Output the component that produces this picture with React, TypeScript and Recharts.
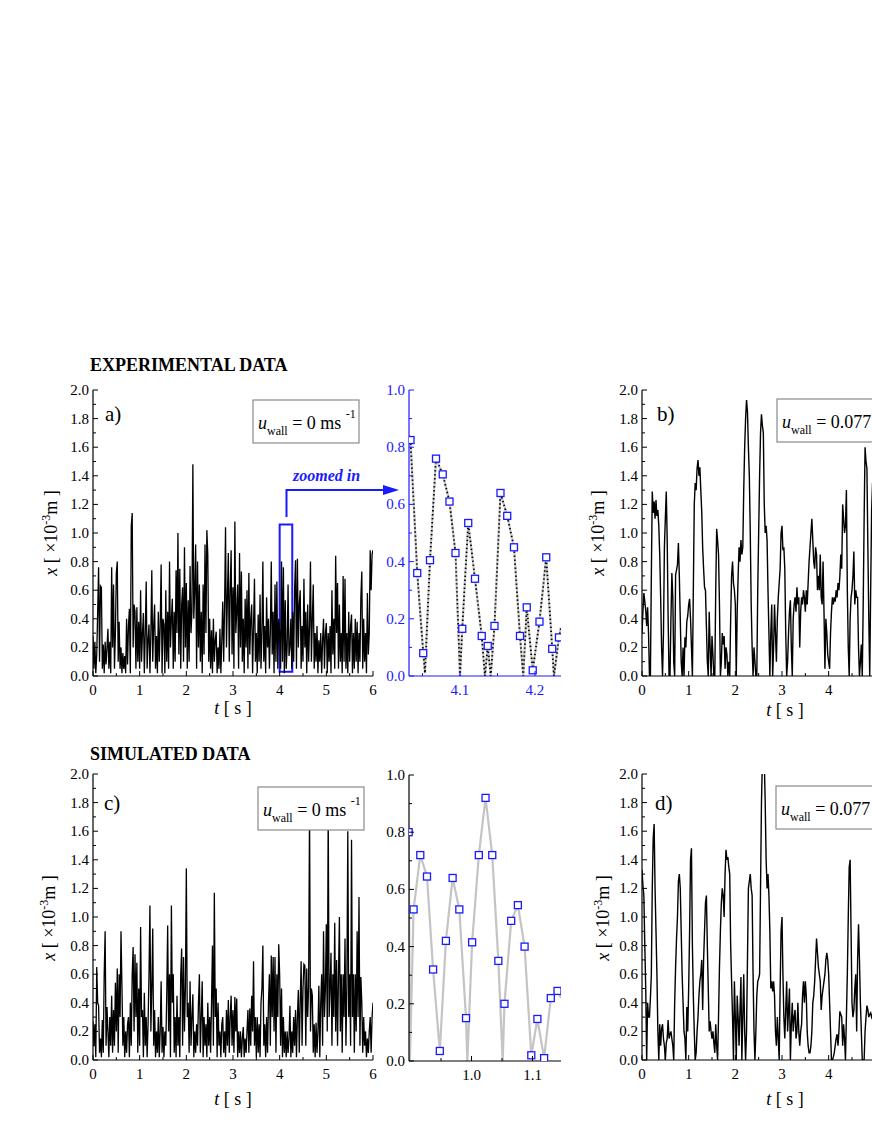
import React from "react";
import { LineChart, Line, XAxis, YAxis, ReferenceArea } from "recharts";

const FONT = '"Liberation Serif", "Times New Roman", serif';
const BLUE = "#1a1aff";
const DT = 0.02;

// a) experimental, u_wall = 0 m/s  (0 .. 6 s)
const EXP_WALL0 = [
  0.28, 0.05, 0.24, 0.02, 0.15, 0.45, 0.76, 0.1, 0.63, 0.62, 0.05, 0.22, 0.02, 0.24, 0.08, 0.2, 0.33, 0.05, 0.24, 0.02, 0.76, 0.2, 0.64, 0.05, 0.3,
  0.72, 0.8, 0.1, 0.38, 0.05, 0.2, 0.02, 0.16, 0.05, 0.14, 0.02, 0.4, 0.08, 0.35, 0.47, 0.02, 1.05, 1.14, 0.2, 0.5, 0.45, 0.05, 0.48, 0.1, 0.38,
  0.05, 0.6, 0.1, 0.3, 0.44, 0.02, 0.3, 0.66, 0.05, 0.25, 0.36, 0.02, 0.3, 0.74, 0.1, 0.35, 0.5, 0.05, 0.28, 0.02, 0.45, 0.1, 0.35, 0.78, 0.02,
  0.4, 0.36, 0.02, 0.6, 0.1, 0.45, 0.05, 0.8, 0.2, 0.4, 0.54, 0.05, 0.45, 0.1, 0.74, 0.3, 1.0, 0.15, 0.75, 0.05, 0.5, 0.62, 0.1, 0.9, 0.2,
  0.65, 0.05, 0.53, 0.1, 0.77, 0.3, 0.45, 1.48, 0.4, 0.6, 0.92, 0.05, 0.8, 0.2, 0.64, 0.1, 0.45, 0.02, 0.64, 0.15, 0.92, 0.3, 1.02, 0.85, 0.1,
  0.4, 0.05, 0.32, 0.02, 0.4, 0.1, 0.25, 0.31, 0.02, 0.2, 0.05, 0.33, 0.02, 0.25, 0.52, 0.1, 0.5, 1.04, 0.2, 0.55, 0.86, 0.1, 0.6, 0.88, 0.15,
  0.62, 0.05, 1.08, 0.3, 0.45, 0.64, 0.05, 0.86, 0.2, 0.73, 0.1, 0.4, 0.02, 0.54, 0.2, 0.6, 0.05, 0.72, 0.15, 0.4, 0.5, 0.02, 0.35, 0.68, 0.1,
  0.3, 0.02, 0.43, 0.1, 0.57, 0.05, 0.3, 0.8, 0.1, 0.35, 0.02, 0.55, 0.2, 0.4, 0.05, 0.3, 0.8, 0.15, 0.45, 0.02, 0.64, 0.1, 0.66, 0.05, 0.4,
  0.3, 0.05, 0.8, 0.1, 0.76, 0.02, 0.53, 0.05, 0.2, 0.64, 0.14, 0.2, 0.4, 0.05, 0.45, 0.1, 0.6, 0.81, 0.05, 0.82, 0.2, 0.5, 0.6, 0.05, 0.35,
  0.1, 0.68, 0.2, 0.45, 0.02, 0.5, 0.1, 0.35, 0.8, 0.1, 0.4, 0.64, 0.05, 0.3, 0.1, 0.35, 0.02, 0.25, 0.1, 0.3, 0.02, 0.25, 0.4, 0.05, 0.3,
  0.37, 0.02, 0.3, 0.1, 0.35, 0.02, 0.6, 0.15, 0.4, 0.05, 0.84, 0.3, 0.65, 0.05, 0.5, 0.1, 0.3, 0.02, 0.7, 0.1, 0.68, 0.05, 0.3, 0.02, 0.45,
  0.1, 0.35, 0.43, 0.02, 0.3, 0.05, 0.4, 0.1, 0.38, 0.02, 0.3, 0.1, 0.55, 0.73, 0.05, 0.4, 0.1, 0.3, 0.02, 0.58, 0.15, 0.3, 0.88, 0.6, 0.85,
  0.88,
];

// b) experimental, u_wall = 0.077 m/s  (0 .. 5 s visible)
const EXP_WALL077 = [
  0.3, 0.45, 0.58, 0.52, 0.46, 0.35, 0.48, 0.3, 0.0, 0.0, 0.7, 1.29, 1.14, 1.22, 1.1, 1.23, 1.12, 1.16, 1.05, 0.85, 0.55, 0.2, 0.0, 0.3, 0.9,
  1.1, 1.29, 0.95, 0.4, 0.0, 0.0, 0.4, 0.72, 0.55, 0.1, 0.0, 0.71, 0.74, 0.78, 0.93, 0.7, 0.4, 0.1, 0.0, 0.2, 0.0, 0.27, 0.2, 0.38, 0.42,
  0.5, 0.54, 0.4, 0.2, 0.0, 0.6, 1.2, 1.35, 1.3, 1.45, 1.51, 1.4, 1.46, 1.3, 1.15, 0.9, 0.75, 0.62, 0.6, 0.35, 0.1, 0.0, 0.45, 0.2, 0.0,
  0.28, 0.15, 0.0, 0.0, 0.6, 1.03, 0.95, 0.85, 0.5, 0.0, 0.1, 0.3, 0.22, 0.28, 0.05, 0.2, 0.15, 0.0, 0.1, 0.0, 0.4, 0.7, 0.8, 0.65, 0.6,
  0.5, 0.0, 0.45, 0.7, 0.9, 0.8, 0.95, 0.85, 0.9, 1.3, 1.6, 1.8, 1.93, 1.85, 1.6, 1.4, 1.0, 0.5, 0.2, 0.0, 0.2, 0.1, 0.0, 0.0, 0.6,
  1.0, 1.4, 1.7, 1.83, 1.75, 1.7, 1.2, 1.0, 1.05, 0.95, 0.6, 0.3, 0.0, 0.3, 0.5, 0.0, 0.2, 0.5, 0.3, 0.1, 0.4, 0.55, 0.65, 0.75, 1.0,
  1.05, 0.88, 0.9, 0.75, 0.3, 0.0, 0.1, 0.3, 0.45, 0.53, 0.2, 0.0, 0.4, 0.5, 0.55, 0.45, 0.62, 0.5, 0.55, 0.2, 0.45, 0.55, 0.5, 0.6, 0.55,
  0.45, 0.6, 0.5, 0.65, 0.8, 0.9, 1.0, 1.1, 0.95, 0.8, 0.75, 0.9, 0.85, 0.6, 0.7, 0.6, 0.85, 0.55, 0.5, 0.8, 0.45, 0.05, 0.4, 0.3, 0.15,
  0.1, 0.05, 0.3, 0.45, 0.55, 0.5, 0.55, 0.52, 0.6, 0.55, 0.65, 0.6, 0.7, 0.85, 0.75, 1.2, 1.1, 1.0, 1.05, 1.3, 0.6, 0.2, 0.0, 0.4, 0.55,
  0.6, 0.7, 0.87, 0.5, 0.6, 0.55, 0.55, 0.2, 0.0, 0.1, 0.22, 0.0, 0.5, 1.1, 1.6, 1.5, 1.45, 0.9, 0.4, 0.0, 0.6, 1.15, 1.35, 1.2, 1.3,
  1.25,
];

// c) simulated, u_wall = 0 m/s  (0 .. 6 s)
const SIM_WALL0 = [
  0.27, 0.1, 0.25, 0.02, 0.65, 0.4, 0.38, 0.05, 0.15, 0.02, 0.28, 0.05, 0.6, 0.9, 0.1, 0.37, 0.2, 0.02, 0.3, 0.1, 0.45, 0.05, 0.35, 0.1, 0.54,
  0.2, 0.64, 0.05, 0.6, 0.3, 0.9, 0.52, 0.1, 0.3, 0.02, 0.2, 0.05, 0.25, 0.3, 0.02, 0.4, 0.1, 0.6, 0.79, 0.2, 0.74, 0.3, 0.68, 0.05, 0.5,
  0.1, 0.93, 0.3, 0.35, 0.02, 0.47, 0.1, 0.3, 0.02, 0.25, 0.6, 1.08, 0.2, 0.5, 0.92, 0.1, 0.35, 0.02, 0.2, 0.05, 0.3, 0.02, 0.2, 0.55, 0.05,
  0.23, 0.02, 0.2, 0.1, 0.45, 0.94, 0.2, 0.6, 0.02, 1.08, 0.4, 0.6, 0.05, 0.3, 0.02, 0.45, 0.1, 0.3, 0.02, 0.6, 0.78, 0.1, 0.72, 0.2, 0.5,
  1.34, 0.3, 0.4, 0.05, 0.55, 0.1, 0.3, 0.46, 0.02, 0.2, 0.05, 0.25, 0.1, 0.4, 0.6, 0.05, 0.3, 0.55, 0.02, 0.3, 0.1, 0.25, 0.02, 0.4, 0.1,
  0.3, 0.05, 0.4, 0.8, 0.1, 1.17, 0.3, 0.5, 0.02, 0.4, 0.1, 0.2, 0.02, 0.25, 0.3, 0.05, 0.2, 0.02, 0.35, 0.1, 0.42, 0.05, 0.3, 0.45, 0.1,
  0.35, 0.05, 0.44, 0.2, 0.43, 0.02, 0.2, 0.05, 0.2, 0.02, 0.15, 0.23, 0.02, 0.15, 0.05, 0.2, 0.35, 0.05, 0.36, 0.1, 0.45, 0.2, 0.69, 0.1, 0.3,
  0.02, 0.3, 0.05, 0.25, 0.02, 0.4, 0.5, 0.8, 0.1, 0.25, 0.02, 0.3, 0.05, 0.4, 0.6, 0.1, 0.73, 0.3, 0.72, 0.2, 0.72, 0.05, 0.6, 0.3, 0.81,
  0.59, 0.1, 0.5, 0.02, 0.3, 0.05, 0.2, 0.02, 0.2, 0.05, 0.15, 0.38, 0.02, 0.2, 0.05, 0.3, 0.1, 0.35, 0.02, 0.3, 0.49, 0.05, 0.4, 0.69, 0.1,
  0.5, 0.67, 0.66, 0.1, 0.64, 0.3, 0.5, 1.75, 0.2, 0.5, 0.45, 0.05, 0.25, 0.02, 0.26, 0.05, 0.2, 0.52, 0.02, 0.4, 0.6, 0.1, 0.9, 0.3, 0.5,
  0.95, 0.2, 1.75, 0.3, 0.5, 0.75, 0.1, 0.6, 0.3, 0.96, 0.2, 0.7, 0.1, 0.58, 1.0, 0.2, 0.6, 0.05, 0.6, 0.3, 0.85, 0.1, 0.5, 1.6, 0.3,
  0.6, 0.1, 1.54, 0.3, 0.6, 0.05, 0.6, 0.2, 0.9, 0.3, 1.14, 0.1, 0.58, 0.4, 0.05, 0.3, 0.1, 0.2, 0.02, 0.15, 0.05, 0.2, 0.3, 0.05, 0.3,
  0.4,
];

// d) simulated, u_wall = 0.077 m/s  (0 .. 5 s visible)
const SIM_WALL077 = [
  1.33, 1.22, 1.15, 0.8, 0.5, 0.0, 0.4, 0.3, 0.3, 0.43, 0.6, 1.2, 1.55, 1.65, 1.2, 0.9, 0.6, 0.2, 0.0, 0.25, 0.1, 0.22, 0.25, 0.15, 0.1,
  0.0, 0.12, 0.15, 0.28, 0.15, 0.18, 0.2, 0.15, 0.1, 0.0, 0.4, 0.65, 0.85, 1.0, 1.25, 1.3, 1.2, 0.9, 0.6, 0.4, 0.2, 0.15, 0.0, 0.37, 0.2,
  0.5, 0.9, 1.4, 1.48, 0.8, 0.45, 0.2, 0.0, 0.05, 0.2, 0.3, 0.45, 0.55, 0.6, 0.7, 0.35, 0.7, 0.9, 1.1, 1.15, 0.8, 0.5, 0.2, 0.27, 0.2,
  0.15, 0.2, 0.12, 0.05, 0.25, 0.1, 0.0, 0.3, 0.65, 0.9, 1.1, 1.2, 1.15, 1.0, 1.3, 1.47, 1.4, 1.42, 1.35, 1.3, 0.8, 0.55, 0.3, 0.0, 0.55,
  0.3, 0.0, 0.45, 0.3, 0.1, 0.35, 0.58, 0.0, 0.3, 0.6, 0.2, 0.0, 0.2, 0.7, 1.2, 1.25, 1.3, 1.2, 1.15, 0.6, 0.2, 0.0, 0.2, 0.45, 0.55,
  0.57, 0.6, 1.2, 1.8, 2.1, 2.2, 2.1, 1.8, 1.4, 1.2, 1.3, 1.15, 0.9, 0.5, 0.55, 0.48, 0.55, 0.45, 0.2, 0.1, 0.3, 0.15, 0.0, 0.5, 0.9,
  1.0, 0.6, 0.3, 0.15, 0.35, 0.55, 0.2, 0.35, 0.5, 0.0, 0.25, 0.4, 0.2, 0.3, 0.35, 0.15, 0.2, 0.4, 0.2, 0.1, 0.2, 0.25, 0.45, 0.55, 0.4,
  0.55, 0.45, 0.2, 0.1, 0.05, 0.05, 0.1, 0.2, 0.4, 0.45, 0.55, 0.7, 0.85, 0.75, 0.65, 0.6, 0.55, 0.35, 0.45, 0.5, 0.55, 0.6, 0.7, 0.75, 0.7,
  0.6, 0.4, 0.2, 0.0, 0.0, 0.02, 0.05, 0.1, 0.15, 0.18, 0.1, 0.2, 0.34, 0.32, 0.3, 0.1, 0.25, 0.15, 0.0, 0.3, 0.6, 1.0, 1.35, 1.4, 0.9,
  0.4, 0.3, 0.35, 0.5, 0.6, 0.2, 0.7, 0.95, 0.7, 0.4, 0.2, 0.0, 0.0, 0.0, 0.2, 0.3, 0.38, 0.35, 0.3, 0.32, 0.33, 0.3, 0.32, 0.3, 0.28,
  0.3,
];

// zoomed window of a): camera frames (squares) and full trace turning points
const ZOOM_EXP_T = [4.034, 4.043, 4.051, 4.06, 4.068, 4.077, 4.086, 4.094, 4.103, 4.111, 4.12, 4.129, 4.137, 4.146, 4.154, 4.163, 4.172, 4.18, 4.189, 4.197, 4.206, 4.215, 4.223, 4.232];
const ZOOM_EXP_X = [0.825, 0.36, 0.08, 0.405, 0.76, 0.705, 0.61, 0.43, 0.165, 0.535, 0.34, 0.14, 0.105, 0.175, 0.64, 0.56, 0.45, 0.14, 0.24, 0.02, 0.19, 0.415, 0.095, 0.135];
const ZOOM_EXP_EXTRA_T = [4.032, 4.0533, 4.1, 4.1333, 4.141, 4.1844, 4.2253, 4.2347];
const ZOOM_EXP_EXTRA_X = [0.84, 0.01, 0.0, 0.0, 0.0, 0.0, 0.0, 0.17];

// zoomed window of c)
const ZOOM_SIM_T = [0.897, 0.905, 0.916, 0.927, 0.937, 0.948, 0.958, 0.969, 0.98, 0.991, 1.001, 1.012, 1.023, 1.034, 1.044, 1.054, 1.065, 1.076, 1.087, 1.098, 1.108, 1.119, 1.13, 1.141];
const ZOOM_SIM_X = [0.8, 0.53, 0.72, 0.645, 0.32, 0.035, 0.42, 0.64, 0.53, 0.15, 0.415, 0.72, 0.92, 0.72, 0.35, 0.2, 0.49, 0.545, 0.4, 0.02, 0.147, 0.01, 0.22, 0.245];
const ZOOM_SIM_EXTRA_T = [0.899, 0.9931, 1.0511, 1.1467];
const ZOOM_SIM_EXTRA_X = [0.0, 0.0, 0.0, 0.22];

// axis ticks
const T_TICKS = [0, 0.5, 1, 1.5, 2, 2.5, 3, 3.5, 4, 4.5, 5, 5.5, 6];
const T_MAJOR = [0, 1, 2, 3, 4, 5, 6];
const T_MAJOR_CUT = [0, 1, 2, 3, 4]; // right-hand panels are cut by the page edge
const X_TICKS = [0, 0.1, 0.2, 0.3, 0.4, 0.5, 0.6, 0.7, 0.8, 0.9, 1.0, 1.1, 1.2, 1.3, 1.4, 1.5, 1.6, 1.7, 1.8, 1.9, 2.0];
const X_MAJOR = [0, 0.2, 0.4, 0.6, 0.8, 1.0, 1.2, 1.4, 1.6, 1.8, 2.0];
const ZX_TICKS = [0, 0.1, 0.2, 0.3, 0.4, 0.5, 0.6, 0.7, 0.8, 0.9, 1.0];
const ZX_MAJOR = [0, 0.2, 0.4, 0.6, 0.8, 1.0];
const ZA_T_TICKS = [4.05, 4.1, 4.15, 4.2];
const ZA_T_MAJOR = [4.1, 4.2];
const ZC_T_TICKS = [0.95, 1.0, 1.05, 1.1];
const ZC_T_MAJOR = [1.0, 1.1];

const series = (vals: number[]) => vals.map((v, i) => ({ t: +(i * DT).toFixed(2), v }));
const pairs = (ts: number[], xs: number[]) => ts.map((t, i) => ({ t, v: xs[i] }));
const merged = (a: { t: number; v: number }[], b: { t: number; v: number }[]) =>
  [...a, ...b].sort((p, q) => p.t - q.t);

type Side = "left" | "right" | "top" | "bottom";

function tickFn(side: Side, majors: number[], color: string, digits: number, labels: number[] | null) {
  return (p: any) => {
    const { x, y } = p;
    const v = p.payload.value as number;
    const major = majors.some((m) => Math.abs(m - v) < 1e-6);
    const showLabel = labels ? labels.some((m) => Math.abs(m - v) < 1e-6) : false;
    const len = major ? 5 : 3;
    let ln = null;
    if (side === "left") ln = <line x1={x} x2={x + len} y1={y} y2={y} />;
    if (side === "right") ln = <line x1={x} x2={x - len} y1={y} y2={y} />;
    if (side === "bottom") ln = <line x1={x} x2={x} y1={y} y2={y - len} />;
    if (side === "top") ln = <line x1={x} x2={x} y1={y} y2={y + len} />;
    let label = null;
    if (showLabel) {
      const txt = v.toFixed(digits);
      label =
        side === "left" ? (
          <text x={x - 4} y={y + 5} textAnchor="end" fontSize={15} fill={color} fontFamily={FONT}>{txt}</text>
        ) : (
          <text x={x} y={y + 19} textAnchor="middle" fontSize={15} fill={color} fontFamily={FONT}>{txt}</text>
        );
    }
    return (
      <g>
        <g stroke={color} strokeWidth={1}>{ln}</g>
        {label}
      </g>
    );
  };
}

type PanelProps = {
  left: number;
  top: number;
  w: number;
  h: number;
  xDomain: [number, number];
  xTicks: number[];
  xMajor: number[];
  xLabels?: number[];
  xDigits: number;
  yDomain: [number, number];
  yTicks: number[];
  yMajor: number[];
  color?: string;
  children: React.ReactNode;
};

function Panel({ left, top, w, h, xDomain, xTicks, xMajor, xLabels, xDigits, yDomain, yTicks, yMajor, color = "#000", children }: PanelProps) {
  const YW = 45;
  const MT = 8;
  const MR = 12;
  const XH = 30;
  const axisLine = { stroke: color, strokeWidth: 1.2 };
  return (
    <div style={{ position: "absolute", left: left - YW, top: top - MT }}>
      <LineChart width={YW + w + MR} height={MT + h + XH} margin={{ top: MT, right: MR, bottom: 0, left: 0 }}>
        <XAxis dataKey="t" type="number" domain={xDomain} ticks={xTicks} allowDataOverflow interval={0} height={XH}
          tickSize={0} tickMargin={0} tickLine={false} axisLine={axisLine} tick={tickFn("bottom", xMajor, color, xDigits, xLabels ?? xMajor)} />
        <XAxis xAxisId="top" orientation="top" type="number" domain={xDomain} ticks={xTicks} allowDataOverflow interval={0} height={0}
          tickSize={0} tickMargin={0} tickLine={false} axisLine={axisLine} tick={tickFn("top", xMajor, color, xDigits, null)} />
        <YAxis type="number" domain={yDomain} ticks={yTicks} allowDataOverflow interval={0} width={YW}
          tickSize={0} tickMargin={0} tickLine={false} axisLine={axisLine} tick={tickFn("left", yMajor, color, 1, yMajor)} />
        <YAxis yAxisId="right" orientation="right" type="number" domain={yDomain} ticks={yTicks} allowDataOverflow interval={0} width={0}
          tickSize={0} tickMargin={0} tickLine={false} axisLine={axisLine} tick={tickFn("right", yMajor, color, 1, null)} />
        {children}
      </LineChart>
    </div>
  );
}

const squareDot = (p: any) => (
  <rect key={`sq-${p.index}`} x={p.cx - 3.5} y={p.cy - 3.5} width={7} height={7} fill="#fff" stroke={BLUE} strokeWidth={1.3} />
);

function YTitle({ x, y }: { x: number; y: number }) {
  return (
    <text transform={`translate(${x},${y}) rotate(-90)`} textAnchor="middle" fontSize={18} fontFamily={FONT}>
      <tspan fontStyle="italic">x</tspan>
      <tspan> [ ×10</tspan>
      <tspan fontSize={12} dy={-7}>-3</tspan>
      <tspan dy={7}>m ]</tspan>
    </text>
  );
}

function TTitle({ x, y }: { x: number; y: number }) {
  return (
    <text x={x} y={y} textAnchor="middle" fontSize={18} fontFamily={FONT}>
      <tspan fontStyle="italic">t</tspan>
      <tspan> [ s ]</tspan>
    </text>
  );
}

function WallBox({ x, y, w, value, unit }: { x: number; y: number; w: number; value: string; unit: boolean }) {
  return (
    <g>
      <rect x={x} y={y} width={w} height={43} fill="#fff" stroke="#8a8a8a" strokeWidth={1.2} />
      <text x={x + 5} y={y + 29} fontSize={18} fontFamily={FONT}>
        <tspan fontStyle="italic">u</tspan>
        <tspan fontSize={12} dy={6}>wall</tspan>
        <tspan dy={-6}>{` = ${value}${unit ? " ms " : ""}`}</tspan>
        {unit && <tspan fontSize={12} dy={-11}>-1</tspan>}
      </text>
    </g>
  );
}

export default function App() {
  const dA = series(EXP_WALL0);
  const dB = series(EXP_WALL077);
  const dC = series(SIM_WALL0);
  const dD = series(SIM_WALL077);
  const zaSq = pairs(ZOOM_EXP_T, ZOOM_EXP_X);
  const zaLine = merged(zaSq, pairs(ZOOM_EXP_EXTRA_T, ZOOM_EXP_EXTRA_X));
  const zcSq = pairs(ZOOM_SIM_T, ZOOM_SIM_X);
  const zcLine = merged(zcSq, pairs(ZOOM_SIM_EXTRA_T, ZOOM_SIM_EXTRA_X));

  const main = { w: 280, h: 286, xDomain: [0, 6] as [number, number], xTicks: T_TICKS, xMajor: T_MAJOR, xDigits: 0, yDomain: [0, 2] as [number, number], yTicks: X_TICKS, yMajor: X_MAJOR };
  const zoom = { w: 152, h: 286, xDigits: 1, yDomain: [0, 1] as [number, number], yTicks: ZX_TICKS, yMajor: ZX_MAJOR };

  return (
    <div style={{ position: "absolute", left: 0, top: 0, width: 872, height: 1128, overflow: "hidden", background: "#fff", fontFamily: FONT }}>
      {/* a) */}
      <Panel left={93} top={390} {...main}>
        <Line data={dA} dataKey="v" type="linear" stroke="#000" strokeWidth={1.3} dot={false} isAnimationActive={false} />
        <ReferenceArea x1={4.0} x2={4.27} y1={0.03} y2={1.06} stroke={BLUE} strokeWidth={2} fill="none" fillOpacity={0} />
      </Panel>
      {/* zoom of a) */}
      <Panel left={409} top={390} {...zoom} xDomain={[4.032, 4.2347]} xTicks={ZA_T_TICKS} xMajor={ZA_T_MAJOR} color={BLUE}>
        <Line data={zaLine} dataKey="v" type="linear" stroke="#c8c8c8" strokeWidth={2.2} dot={false} isAnimationActive={false} />
        <Line data={zaLine} dataKey="v" type="linear" stroke="#000" strokeWidth={1.8} strokeDasharray="1.4 2.6" dot={false} isAnimationActive={false} />
        <Line data={zaSq} dataKey="v" type="linear" stroke="none" dot={squareDot} isAnimationActive={false} />
      </Panel>
      {/* b) */}
      <Panel left={642} top={390} {...main} xLabels={T_MAJOR_CUT}>
        <Line data={dB} dataKey="v" type="linear" stroke="#000" strokeWidth={1.4} dot={false} isAnimationActive={false} />
      </Panel>
      {/* c) */}
      <Panel left={93} top={774} {...main}>
        <Line data={dC} dataKey="v" type="linear" stroke="#000" strokeWidth={1.3} dot={false} isAnimationActive={false} />
      </Panel>
      {/* zoom of c) */}
      <Panel left={409} top={775} {...zoom} xDomain={[0.8975, 1.1467]} xTicks={ZC_T_TICKS} xMajor={ZC_T_MAJOR}>
        <Line data={zcLine} dataKey="v" type="linear" stroke="#c4c4c4" strokeWidth={2.2} dot={false} isAnimationActive={false} />
        <Line data={zcSq} dataKey="v" type="linear" stroke="none" dot={squareDot} isAnimationActive={false} />
      </Panel>
      {/* d) */}
      <Panel left={642} top={774} {...main} xLabels={T_MAJOR_CUT}>
        <Line data={dD} dataKey="v" type="linear" stroke="#000" strokeWidth={1.4} dot={false} isAnimationActive={false} />
      </Panel>

      <svg width={872} height={1128} style={{ position: "absolute", left: 0, top: 0, pointerEvents: "none" }}>
        <text x={90} y={371} fontSize={18} fontWeight="bold" fontFamily={FONT}>EXPERIMENTAL DATA</text>
        <text x={90} y={760} fontSize={18} fontWeight="bold" fontFamily={FONT}>SIMULATED DATA</text>

        <WallBox x={253} y={400} w={106} value="0" unit />
        <WallBox x={777} y={399} w={130} value="0.077" unit={false} />
        <WallBox x={258} y={787} w={106} value="0" unit />
        <WallBox x={776} y={786} w={130} value="0.077" unit={false} />

        <text x={105} y={421} fontSize={21} fontFamily={FONT}>a)</text>
        <text x={657} y={421} fontSize={21} fontFamily={FONT}>b)</text>
        <text x={104} y={810} fontSize={21} fontFamily={FONT}>c)</text>
        <text x={655} y={810} fontSize={21} fontFamily={FONT}>d)</text>

        <YTitle x={57} y={533} />
        <YTitle x={55} y={918} />
        <YTitle x={604} y={533} />
        <YTitle x={609} y={918} />
        <TTitle x={233} y={714} />
        <TTitle x={785} y={716} />
        <TTitle x={233} y={1105} />
        <TTitle x={785} y={1105} />

        {/* zoom connector */}
        <path d="M286.5 517 V490 H388" fill="none" stroke={BLUE} strokeWidth={2} />
        <polygon points="383,485 399,490 383,495" fill={BLUE} />
        <text x={293} y={481} fontSize={16} fontWeight="bold" fontStyle="italic" fill={BLUE} fontFamily={FONT}>zoomed in</text>
      </svg>
    </div>
  );
}
